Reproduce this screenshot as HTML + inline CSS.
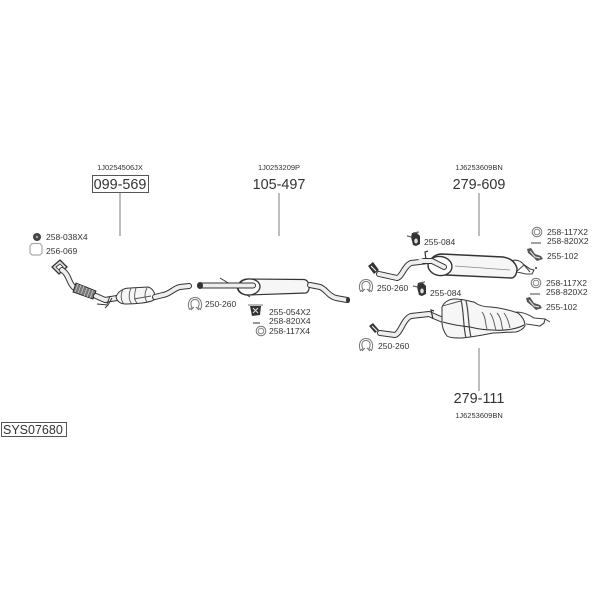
<!DOCTYPE html>
<html><head><meta charset="utf-8"><style>
html,body{margin:0;padding:0;background:#fff}
svg{display:block;filter:blur(.3px)}
text{font-family:"Liberation Sans",sans-serif;fill:#333}
.l{font-size:8.5px}
.s{font-size:7.500px;text-anchor:middle}
.b{font-size:14.400px;text-anchor:middle}
.p{fill:none;stroke:#333;stroke-width:6;stroke-linecap:round;stroke-linejoin:round}
.i{fill:none;stroke:#eee;stroke-width:4;stroke-linecap:round;stroke-linejoin:round}
.o{fill:#f6f6f6;stroke:#333;stroke-width:1}
.t{fill:none;stroke:#555;stroke-width:.9}
</style></head><body>
<svg width="600" height="600" viewBox="0 0 600 600">
<defs>
<g id="clamp"><path d="M-5.500 5.500 C-8 0 -6 -6.500 0 -6.500 C6 -6.500 8 0 5.500 5.500 L3 3.500 C5.500 -1 3.500 -4.500 0 -4.500 C-3.500 -4.500 -5.500 -1 -3 3.500 Z" fill="#fff" stroke="#777" stroke-width="1"/><path d="M-4 6 L-1 3 M4 6 L1 3" stroke="#777" stroke-width="1"/></g>
<g id="ring"><circle r="4.800" fill="none" stroke="#777" stroke-width="1"/><circle r="2.800" fill="none" stroke="#888" stroke-width="1"/></g>
<g id="hanger"><path d="M-2 -6 L3 -6 L6 -3 L6 5 L2 7 L-1 6 L-2 2 L-3 -2 Z" fill="#333"/><ellipse cx="2" cy="2" rx="1.800" ry="2.500" fill="#ddd"/><path d="M-7 -3 L-2 -2 M-1 -6 L5 -7" stroke="#666" stroke-width="1.200"/></g>
<g id="strap"><path d="M-8 -6 L-4 -7 L0 -1 L6 1 L8 4 L2 6 L-2 2 L-7 -2 Z" fill="#555"/><path d="M-5 -4 L0 2 L5 3" stroke="#ddd" stroke-width="1.200" fill="none"/></g>
</defs>

<!-- headers -->
<text x="120" y="170" class="s">1J0254506JX</text>
<rect x="92.500" y="175.500" width="56" height="17" fill="#fff" stroke="#555" stroke-width="1"/>
<text x="120" y="189" class="b">099-569</text>
<line x1="120" y1="193" x2="120" y2="236" stroke="#999" stroke-width="1.300"/>

<text x="279" y="170" class="s">1J0253209P</text>
<text x="279" y="189" class="b">105-497</text>
<line x1="279" y1="193" x2="279" y2="236" stroke="#999" stroke-width="1.300"/>

<text x="479" y="170" class="s">1J6253609BN</text>
<text x="479" y="189" class="b">279-609</text>
<line x1="479" y1="193" x2="479" y2="236" stroke="#999" stroke-width="1.300"/>

<text x="479" y="403" class="b">279-111</text>
<text x="479" y="418" class="s">1J6253609BN</text>
<line x1="479" y1="348" x2="479" y2="391" stroke="#999" stroke-width="1.300"/>

<rect x="1.500" y="422.500" width="65" height="14" fill="#fff" stroke="#555" stroke-width="1"/>
<text x="3" y="434" style="font-size:12.500px">SYS07680</text>

<!-- front section -->
<circle cx="37" cy="237" r="4" fill="#444"/>
<circle cx="37" cy="237" r="1.200" fill="#aaa"/>
<text x="46" y="240" class="l">258-038X4</text>
<path d="M32 243.500 L40 243.500 L42 246 L42 253 L40 255 L32 255 L30 253 L30 246 Z" fill="#fff" stroke="#aaa" stroke-width="1.200"/>
<text x="46" y="254" class="l">256-069</text>

<path d="M52 267 L60 260 L67 267 L59 274 Z" fill="#ddd" stroke="#333" stroke-width="1.300"/>
<path d="M56 267 L60 264 L63 267 L59 270 Z" fill="#fff" stroke="#333" stroke-width=".8"/>
<path class="p" d="M62 270 C70 275 68 284 76 289"/>
<path class="i" d="M62 270 C70 275 68 284 76 289"/>
<path d="M76 283 L96 291 L93 299 L73 292 Z" fill="#777" stroke="#222" stroke-width=".9"/>
<path d="M78 284 L75 292 M81 285 L78 293 M84 286 L81 294 M87 288 L84 296 M90 289 L87 297 M93 290 L90 298" stroke="#ccc" stroke-width=".8"/>
<path class="p" d="M96 296 L105 300 L117 298"/>
<path class="i" d="M96 296 L105 300 L117 298"/>
<path d="M97 304 L108 305 L112 298 M108 305 L105 308 M110 296 L107 304" fill="none" stroke="#333" stroke-width="1"/>
<path class="o" d="M116 297 C118 291 124 288 130 288 L148 287 C152 288 155 292 155 297 L154 300 C148 303 135 304 126 304 C120 304 117 301 116 297 Z"/>
<path class="t" d="M123 289 C120 295 121 301 124 304 M131 288 C128 295 129 301 132 304 M136 288 C134 295 134 300 137 303 M147 288 C144 294 145 299 147 302 M134 299 L151 296"/>
<path class="p" d="M155 297 L163 295 C170 294 174 288 180 287 L189 286"/>
<path class="i" d="M155 297 L163 295 C170 294 174 288 180 287 L189 286"/>

<use href="#clamp" x="195" y="304"/>
<text x="205" y="307" class="l">250-260</text>

<!-- middle section -->
<path d="M220 278 L230 284 M242 292 L250 297" stroke="#333" stroke-width="1"/>
<path class="o" d="M248 279 L304 279.500 C310 280 311 291 306 293 L248 295 C240 295 236 290 238 285 C240 281 243 279 248 279 Z" style="stroke-width:1.200"/>
<ellipse cx="249" cy="287" rx="11" ry="8" fill="#fff" stroke="#333" stroke-width="1.300" transform="rotate(-5 249 287)"/>
<path class="p" d="M200 285.500 L253 285.500"/>
<path class="i" d="M203 285.500 L253 285.500"/>
<ellipse cx="200" cy="285.500" rx="3" ry="3.500" fill="#333"/>
<path class="p" d="M310 285 L320 287 C326 289 328 296 336 298 L347 300"/>
<path class="i" d="M310 285 L320 287 C326 289 328 296 336 298 L347 300"/>
<ellipse cx="348" cy="300" rx="2" ry="3" fill="#333"/>

<g transform="translate(255,310)"><path d="M-7 -5 L8 -5" stroke="#777"/><path d="M-5 -4 L6 -4 L5 5 L-3 6 Z" fill="#333"/><path d="M-2 -2 L3 3 M3 -2 L-2 3" stroke="#ddd" stroke-width="1"/></g>
<text x="269" y="315" class="l">255-054X2</text>
<path d="M253 323 L260 323" stroke="#333" stroke-width="1"/>
<text x="269" y="324" class="l">258-820X4</text>
<use href="#ring" x="261" y="331"/>
<text x="269" y="334" class="l">258-117X4</text>

<!-- rear top -->
<use href="#clamp" x="366" y="286"/>
<text x="377" y="291" class="l">250-260</text>
<path d="M368 266 L373 262 L379 270 L374 274 Z" fill="#333"/>
<path d="M371 266 L376 271" stroke="#fff"/>
<path class="p" d="M379 274 L397 278 C402 277 404 266 411 263 L428 261 L445 268"/>
<path class="i" d="M379 274 L397 278 C402 277 404 266 411 263 L428 261 L445 268"/>
<path d="M426 260 L425 252 L428 251" fill="none" stroke="#333" stroke-width="1.200"/>
<path d="M510 261 C516 259 521 261 523 264 L530 269 L534 270 L532 274 L526 274 L517 272" fill="#fff" stroke="#444" stroke-width="1.100"/>
<path d="M516 272 L524 265 L530 272" fill="#fff" stroke="#444" stroke-width="1"/>
<circle cx="536" cy="268" r="1" fill="#333"/>
<path class="o" d="M442 254 L503 257 C510 258 515 262 517 268 C517 274 515 277 512 278 L446 275 C438 275 432 273 429 268 C427 261 434 254 442 254 Z" style="stroke-width:1.400"/>
<ellipse cx="440" cy="266" rx="12" ry="9.500" fill="#fff" stroke="#333" stroke-width="1.400" transform="rotate(8 440 266)"/>
<path class="p" d="M424 261 L432 261 L444 267"/>
<path class="i" d="M420 261 L432 261 L444 267"/>
<path d="M455 266 L510 270" stroke="#888" stroke-width=".8"/>

<use href="#hanger" x="414" y="239"/>
<text x="424" y="245" class="l">255-084</text>
<use href="#ring" x="537" y="232"/>
<text x="547" y="235" class="l">258-117X2</text>
<path d="M531 243 L541 243" stroke="#444"/>
<text x="547" y="244" class="l">258-820X2</text>
<use href="#strap" x="535" y="255"/>
<text x="547" y="259" class="l">255-102</text>

<!-- rear bottom -->
<use href="#hanger" x="420" y="289"/>
<text x="430" y="296" class="l">255-084</text>
<use href="#ring" x="536" y="283"/>
<text x="546" y="286" class="l">258-117X2</text>
<path d="M530 294 L540 294" stroke="#444"/>
<text x="546" y="295" class="l">258-820X2</text>
<use href="#strap" x="534" y="304"/>
<text x="546" y="310" class="l">255-102</text>

<path d="M369 326 L373 323 L379 330 L375 333 Z" fill="#333"/>
<path d="M372 326 L377 331" stroke="#fff"/>
<path class="p" d="M380 333 L395 335 C401 333 403 319 411 316 L429 314 L443 320"/>
<path class="i" d="M380 333 L395 335 C401 333 403 319 411 316 L429 314 L443 320"/>
<path d="M433 319 L431 310 L434 311" fill="none" stroke="#333" stroke-width="1.200"/>
<path d="M516 312 C524 312 531 316 534 318 L545 319 L544 323 L540 326 L533 325 L526 324" fill="#fff" stroke="#444" stroke-width="1.100"/>
<path d="M545 319 L550 322" stroke="#333"/>
<path class="o" d="M442 307 C444 302 449 299 455 299 C463 299 468 301 474 302 C479 306 485 307 491 307 C502 308 512 311 518 313 C523 317 525 321 525 326 C523 329 520 331 516 332 C508 332 500 333 493 333 C483 335 472 337 462 338 C456 338 450 338 447 336 C444 332 442 328 442 322 Z"/>
<path d="M443 322 C452 325 462 326 470 327 C478 329 486 330 493 330 C505 331 517 329 524 325" fill="none" stroke="#333" stroke-width="1.100"/>
<path d="M461 300 C464 312 463 326 466 338 M466 301 C469 312 468 326 471 337" fill="none" stroke="#444" stroke-width="1.200"/>
<path class="t" d="M482 312 C486 317 485 323 487 329 M490 313 C494 318 494 324 496 330 M497 313 C502 318 501 325 503 330 M504 313 C508 318 509 324 510 328 M443 306 C450 304 456 302 461 301"/>

<use href="#clamp" x="366" y="345"/>
<text x="378" y="349" class="l">250-260</text>
</svg>
</body></html>
